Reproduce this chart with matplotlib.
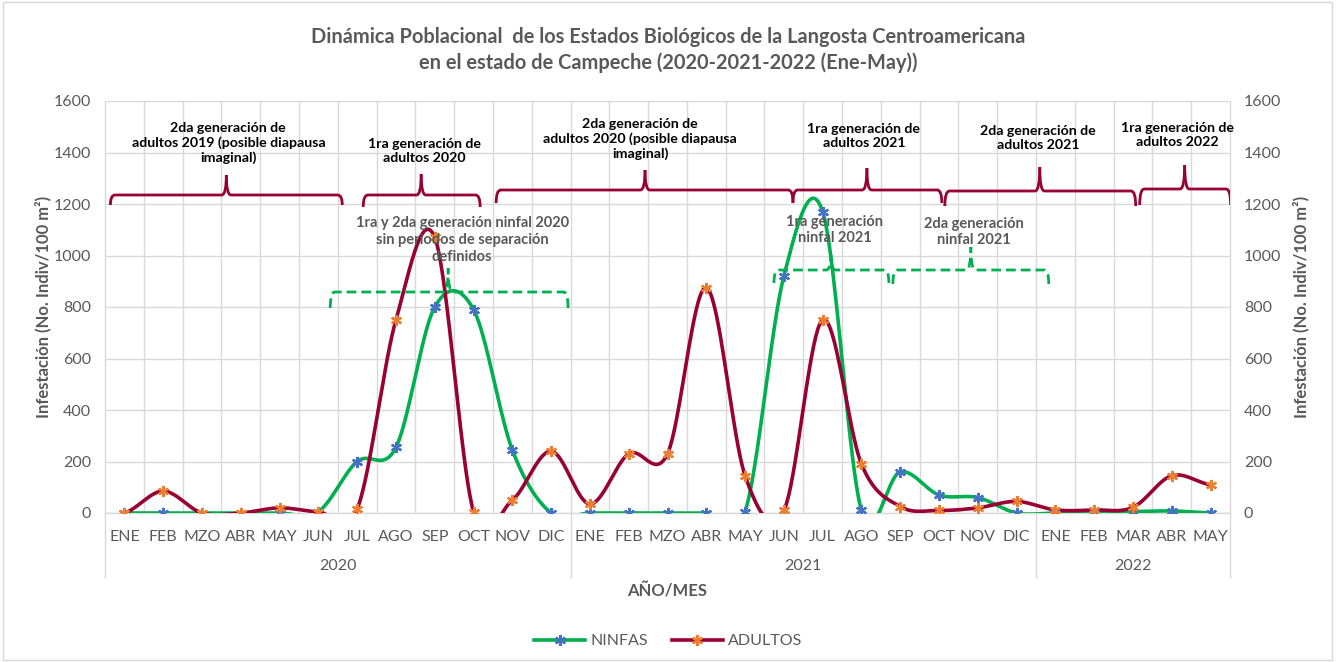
import numpy as np
import matplotlib
matplotlib.use("Agg")
import matplotlib.pyplot as plt
from matplotlib.path import Path
from matplotlib.patches import PathPatch, Rectangle
from matplotlib.transforms import blended_transform_factory

plt.rcParams["font.family"] = ["Lato", "DejaVu Sans"]

months = ["ENE", "FEB", "MZO", "ABR", "MAY", "JUN", "JUL", "AGO", "SEP", "OCT", "NOV", "DIC",
          "ENE", "FEB", "MZO", "ABR", "MAY", "JUN", "JUL", "AGO", "SEP", "OCT", "NOV", "DIC",
          "ENE", "FEB", "MAR", "ABR", "MAY"]
years = ["2020", "2021", "2022"]
months_per_year = [12, 12, 5]

ninfas = [0, 0, 0, 0, 0, 5, 200, 255, 800, 790, 245, 0,
          0, 0, 0, 0, 5, 920, 1170, 10, 160, 70, 60, 0,
          0, 0, 5, 8, 0]
adultos = [0, 85, 0, 0, 20, 5, 15, 750, 1070, 5, 50, 240,
           35, 230, 230, 875, 145, 10, 750, 190, 25, 10, 20, 45,
           12, 12, 22, 145, 110]

GREEN = "#00B050"
MAROON = "#990033"
BLUE = "#4472C4"
ORANGE = "#ED7D31"
GRAY = "#595959"
GRID = "#D9D9D9"


def smooth(y, n=40):
    # Excel-like smoothing (uniform Catmull-Rom)
    y = np.asarray(y, dtype=float)
    x = np.arange(len(y), dtype=float)
    xs, ys = [], []
    for i in range(len(y) - 1):
        p0 = y[i - 1] if i > 0 else y[i]
        p3 = y[i + 2] if i + 2 < len(y) else y[i + 1]
        p1, p2 = y[i], y[i + 1]
        t = np.linspace(0, 1, n)
        seg = 0.5 * ((2 * p1) + (-p0 + p2) * t + (2 * p0 - 5 * p1 + 4 * p2 - p3) * t ** 2
                     + (-p0 + 3 * p1 - 3 * p2 + p3) * t ** 3)
        xs.append(x[i] + t)
        ys.append(seg)
    return np.concatenate(xs), np.concatenate(ys)


# pixel -> data helpers for annotation placement
def px_x(px):
    return (px - 124) / 38.82


def px_y(py):
    return (513 - py) * 200 / 51.5


def brace(ax, x0, x1, xc, y, drop, tip, color, ls, lw):
    w = 0.12
    verts = [(x0, y - drop), (x0, y), (x0 + w, y), (xc - w, y), (xc, y), (xc, y + tip)]
    codes = [Path.MOVETO, Path.CURVE3, Path.CURVE3, Path.LINETO, Path.CURVE3, Path.CURVE3]
    ax.add_patch(PathPatch(Path(verts, codes), fill=False, ec=color, lw=lw, ls=ls, zorder=4))
    verts = [(x1, y - drop), (x1, y), (x1 - w, y), (xc + w, y), (xc, y), (xc, y + tip)]
    ax.add_patch(PathPatch(Path(verts, codes), fill=False, ec=color, lw=lw, ls=ls, zorder=4))


fig = plt.figure(figsize=(13.36, 6.62), dpi=100)
ax = fig.add_axes([105 / 1336, 1 - 513 / 662, (1230 - 105) / 1336, 412 / 662])

n = len(months)
xs, ys = smooth(ninfas)
ax.plot(xs, ys, color=GREEN, lw=2.6, zorder=3, solid_capstyle="round")
ax.plot(range(n), ninfas, ls="none", marker=(6, 2, 0), ms=8, mew=1.6, color=BLUE, zorder=5)
xs, ys = smooth(adultos)
ax.plot(xs, ys, color=MAROON, lw=2.6, zorder=3, solid_capstyle="round")
ax.plot(range(n), adultos, ls="none", marker=(6, 2, 0), ms=8, mew=1.6, color=ORANGE, zorder=5)

ax.set_xlim(-0.5, n - 0.5)
ax.set_ylim(0, 1600)
ax.set_yticks(range(0, 1601, 200))
ax.set_xticks(range(n))
ax.set_xticklabels(months)
ax.set_xticks(np.arange(0.5, n - 1, 1.0), minor=True)
ax.tick_params(axis="both", which="both", length=0, colors=GRAY, labelsize=11.5)
ax.tick_params(axis="x", pad=12)
ax.tick_params(axis="y", pad=10)
ax.grid(True, which="major", axis="y", color=GRID, lw=1)
ax.grid(True, which="minor", axis="x", color=GRID, lw=1)
ax.set_axisbelow(True)
for s in ax.spines.values():
    s.set_color(GRID)
    s.set_linewidth(1)
ax.spines["top"].set_visible(False)

ylab = "Infestación (No. Indiv/100 m²)"
ax.set_ylabel(ylab, color=GRAY, fontsize=12, fontweight="bold", labelpad=2)
ax2 = ax.twinx()
ax2.set_ylim(0, 1600)
ax2.set_yticks(range(0, 1601, 200))
ax2.tick_params(axis="y", length=0, colors=GRAY, labelsize=11.5, pad=10)
for s in ax2.spines.values():
    s.set_visible(False)
ax2.set_ylabel(ylab, color=GRAY, fontsize=12, fontweight="bold", labelpad=8)

# multi-level category axis
tr = blended_transform_factory(ax.transData, ax.transAxes)
start = 0
bounds = [-0.5]
for yr, cnt in zip(years, months_per_year):
    ax.text(start + (cnt - 1) / 2, -0.129, yr, transform=tr, ha="center", va="center",
            color=GRAY, fontsize=11.5)
    start += cnt
    bounds.append(start - 0.5)
for b in bounds:
    ax.plot([b, b], [0, -0.155], transform=tr, color=GRID, lw=1, clip_on=False)
ax.text(0.5, -0.19, "AÑO/MES", transform=ax.transAxes, ha="center", va="center",
        color=GRAY, fontsize=12, fontweight="bold")

# adult generation braces
adult_braces = [
    (110, 342, 226, 195, 205, 175),
    (363, 480, 421, 195, 207, 174),
    (496, 793, 645, 190, 203, 170),
    (793, 942, 867, 190, 203, 168),
    (945, 1136, 1040, 191, 206, 167),
    (1140, 1231, 1185, 189, 205, 165),
]
for x0, x1, xc, yl, yd, yt in adult_braces:
    brace(ax, px_x(x0), px_x(x1), px_x(xc), px_y(yl), px_y(yl) - px_y(yd),
          px_y(yt) - px_y(yl), MAROON, "-", 2.0)

nymph_braces = [
    (330, 568, 448, 292, 308, 268),
    (774, 889, 831, 270, 283, 255),
    (893, 1049, 971, 270, 284, 247),
]
for x0, x1, xc, yl, yd, yt in nymph_braces:
    brace(ax, px_x(x0), px_x(x1), px_x(xc), px_y(yl), px_y(yl) - px_y(yd),
          px_y(yt) - px_y(yl), GREEN, (0, (3.5, 1.8)), 2.0)

adult_labels = [
    (228, 143, "2da generación de\nadultos 2019 (posible diapausa\nimaginal)"),
    (424, 151, "1ra generación de\nadultos 2020"),
    (640, 139, "2da generación de\nadultos 2020 (posible diapausa\nimaginal)"),
    (864, 136, "1ra generación de\nadultos 2021"),
    (1038, 138, "2da generación de\nadultos 2021"),
    (1178, 135, "1ra generación de\nadultos 2022"),
]
for px, py, txt in adult_labels:
    ax.text(px_x(px), px_y(py), txt, ha="center", va="center", fontsize=10.2,
            fontweight="bold", color="black", linespacing=1.25, zorder=6)

nymph_labels = [
    (462, 240, "1ra y 2da generación ninfal 2020\nsin periodos de separación\ndefinidos"),
    (835, 230, "1ra generación\nninfal 2021"),
    (974, 232, "2da generación\nninfal 2021"),
]
for px, py, txt in nymph_labels:
    ax.text(px_x(px), px_y(py), txt, ha="center", va="center", fontsize=10.5,
            fontweight="bold", color=GRAY, linespacing=1.25, zorder=6)

fig.text(0.5, 1 - 50 / 662,
         "Dinámica Poblacional  de los Estados Biológicos de la Langosta Centroamericana\n"
         "en el estado de Campeche (2020-2021-2022 (Ene-May))",
         ha="center", va="center", fontsize=14.4, fontweight="bold", color=GRAY, linespacing=1.3)

# legend
h1, = ax.plot([], [], color=GREEN, lw=2.6, marker=(6, 2, 0), ms=8, mew=1.6, mec=BLUE)
h2, = ax.plot([], [], color=MAROON, lw=2.6, marker=(6, 2, 0), ms=8, mew=1.6, mec=ORANGE)
fig.legend([h1, h2], ["NINFAS", "ADULTOS"], loc="center", bbox_to_anchor=(0.5, 1 - 641 / 662),
           ncol=2, frameon=False, fontsize=11.5, labelcolor=GRAY, handlelength=3.2,
           columnspacing=1.5, handletextpad=0.3)

fig.add_artist(Rectangle((0.002, 0.003), 0.995, 0.994, transform=fig.transFigure,
                         fill=False, ec=GRID, lw=1))

fig.savefig("out.png", dpi=100)
